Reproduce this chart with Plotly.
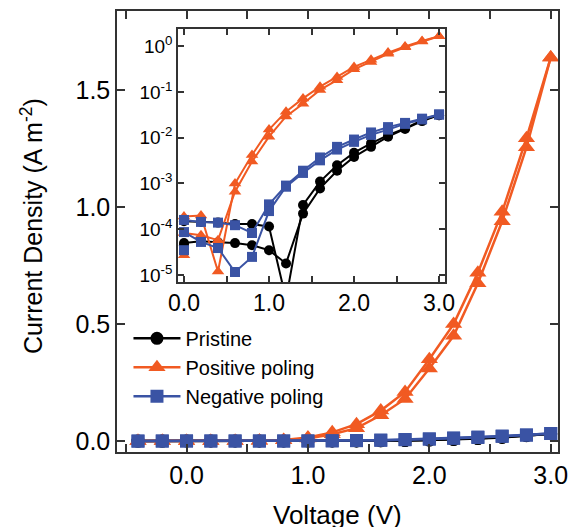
import plotly.graph_objects as go

# ---------------- data ----------------
voltage = [-0.4, -0.2, 0.0, 0.2, 0.4, 0.6, 0.8, 1.0, 1.2, 1.4, 1.6, 1.8, 2.0, 2.2, 2.4, 2.6, 2.8, 3.0]

pristine_a = [-2e-4, -1e-4, 1.5e-4, 1.45e-4, 1.4e-4, 1.3e-4, 1.3e-4, 1.15e-4, 3e-6, 3.4e-4, 1.1e-3,
              2.5e-3, 4.7e-3, 7.5e-3, 1.14e-2, 1.6e-2, 2.4e-2, 3.1e-2]
pristine_b = [-2e-4, -1e-4, 5e-5, 5.5e-5, 5.2e-5, 5e-5, 4.5e-5, 3.5e-5, 1.8e-5, 2.2e-4, 7.8e-4,
              1.9e-3, 3.8e-3, 6.3e-3, 1.05e-2, 1.55e-2, 2.3e-2, 3.1e-2]

positive_a = [-3e-4, -1e-4, 1.9e-4, 2.0e-4, 1.2e-5, 1.0e-3, 4.2e-3, 1.5e-2, 3.7e-2, 7.2e-2, 1.3e-1,
              2.1e-1, 3.5e-1, 5.0e-1, 7.2e-1, 9.8e-1, 1.295, 1.64]
positive_b = [-3e-4, -1e-4, 8.3e-5, 7.4e-5, 5.8e-5, 6.6e-4, 3.0e-3, 1.05e-2, 2.9e-2, 5.5e-2, 1.1e-1,
              1.8e-1, 3.1e-1, 4.5e-1, 6.75e-1, 9.4e-1, 1.256, 1.64]

negative_a = [-3e-4, -1e-4, 1.6e-4, 1.45e-4, 1.4e-4, 1.23e-4, 8.3e-5, 3.5e-4, 9e-4, 1.9e-3, 3.7e-3,
              6.3e-3, 9.1e-3, 1.3e-2, 1.7e-2, 2.1e-2, 2.6e-2, 3.2e-2]
negative_b = [-3e-4, -1e-4, 8.7e-5, 5.3e-5, 3.9e-5, 1.17e-5, 2.5e-5, 2.5e-4, 8.5e-4, 1.7e-3, 3.2e-3,
              5.5e-3, 8.1e-3, 1.15e-2, 1.5e-2, 2.0e-2, 2.5e-2, 3.2e-2]

# isolated first readings at 0 V (inset only)
start_voltage = [0.0]
start_pristine = [4.5e-5]
start_positive = [2.7e-5]
start_negative = [3.5e-5]

series_names = ["Pristine", "Positive poling", "Negative poling"]

main_xticks = [-0.5, 0.0, 0.5, 1.0, 1.5, 2.0, 2.5, 3.0]
main_xticktext = [" ", "0.0", " ", "1.0", " ", "2.0", " ", "3.0"]
main_yticks = [0.0, 0.5, 1.0, 1.5]
main_yticktext = ["0.0", "0.5", "1.0", "1.5"]
inset_xticks = [0.0, 0.5, 1.0, 1.5, 2.0, 2.5, 3.0]
inset_xticktext = ["0.0", " ", "1.0", " ", "2.0", " ", "3.0"]
inset_yticks = [1e-5, 1e-4, 1e-3, 1e-2, 1e-1, 1e0]
inset_yticktext = ["10<sup>-5</sup>", "10<sup>-4</sup>", "10<sup>-3</sup>",
                   "10<sup>-2</sup>", "10<sup>-1</sup>", "10<sup>0</sup>"]

# ---------------- styles ----------------
FONT = "Liberation Sans, Arial, sans-serif"
colors = ["#000000", "#F15A22", "#3A53A4"]
symbols = ["circle", "triangle-up", "square"]
main_sizes = [13, 15, 13]
inset_sizes = [10, 11, 10]
AX = "#333333"

fig = go.Figure()

sweeps = [(pristine_a, pristine_b), (positive_a, positive_b), (negative_a, negative_b)]
starts = [start_pristine, start_positive, start_negative]

# main panel
for i, (sa, sb) in enumerate(sweeps):
    for k, s in enumerate((sa, sb)):
        fig.add_trace(go.Scatter(
            x=voltage, y=s, mode="lines+markers", name=series_names[i],
            legendgroup=series_names[i], showlegend=(k == 0),
            line=dict(color=colors[i], width=2.5),
            marker=dict(symbol=symbols[i], size=main_sizes[i], color=colors[i]),
            xaxis="x", yaxis="y"))

# inset panel (log scale, V >= 0)
for i, (sa, sb) in enumerate(sweeps):
    for s in (sa, sb):
        fig.add_trace(go.Scatter(
            x=voltage[2:], y=s[2:], mode="lines+markers", showlegend=False,
            line=dict(color=colors[i], width=2),
            marker=dict(symbol=symbols[i], size=inset_sizes[i], color=colors[i]),
            xaxis="x2", yaxis="y2"))
    fig.add_trace(go.Scatter(
        x=start_voltage, y=starts[i], mode="markers", showlegend=False,
        marker=dict(symbol=symbols[i], size=inset_sizes[i], color=colors[i]),
        xaxis="x2", yaxis="y2"))

axis_common = dict(showline=True, linecolor=AX, linewidth=1.5, mirror="ticks",
                   ticks="inside", tickcolor=AX, tickwidth=1.5,
                   showgrid=False, zeroline=False, automargin=False)

fig.update_layout(
    width=571, height=527,
    margin=dict(l=117, r=13, t=11, b=75, autoexpand=False),
    paper_bgcolor="white", plot_bgcolor="white",
    font=dict(family=FONT, color="black"),
    xaxis=dict(range=[-0.573, 3.06], tickvals=main_xticks, ticktext=main_xticktext,
               ticklen=8, tickfont=dict(size=25), domain=[0, 1], anchor="y",
               **axis_common),
    yaxis=dict(range=[-0.047, 1.839], tickvals=main_yticks, ticktext=main_yticktext,
               ticklen=8, tickfont=dict(size=25), domain=[0, 1], anchor="x",
               **axis_common),
    xaxis2=dict(range=[-0.0706, 3.07], tickvals=inset_xticks, ticktext=inset_xticktext,
                ticklen=6, tickfont=dict(size=23), domain=[0.1383, 0.7438], anchor="y2",
                **axis_common),
    yaxis2=dict(type="log", range=[-5.15, 0.37], tickvals=inset_yticks,
                ticktext=inset_yticktext, ticklen=6, tickfont=dict(size=19),
                domain=[0.3855, 0.959], anchor="x2", **axis_common),
    legend=dict(x=0.026, y=0.302, xanchor="left", yanchor="top",
                bgcolor="rgba(0,0,0,0)", font=dict(size=20, family=FONT),
                tracegroupgap=0, itemwidth=47),
    annotations=[
        dict(text="Voltage (V)", xref="paper", yref="paper", x=0.501, y=-0.143,
             xanchor="center", yanchor="middle", showarrow=False,
             font=dict(size=26, family=FONT)),
        dict(text="Current Density (A m<sup>-2</sup>)", xref="paper", yref="paper",
             x=-0.193, y=0.512, xanchor="center", yanchor="middle", textangle=-90,
             showarrow=False, font=dict(size=25, family=FONT)),
    ],
)

fig.write_html("out.html", config={"displayModeBar": False},
               post_script="document.body.style.margin='0px';")
